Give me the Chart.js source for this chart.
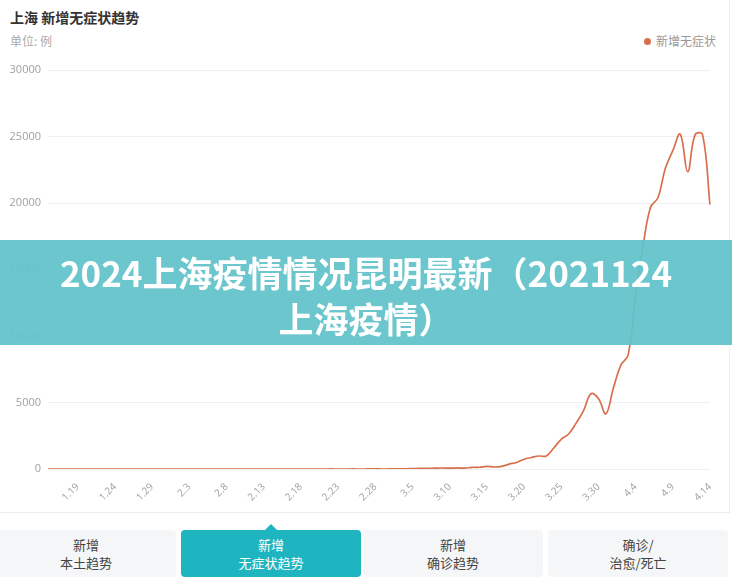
<!DOCTYPE html>
<html>
<head>
<meta charset="utf-8">
<script src="https://cdn.jsdelivr.net/npm/chart.js@4/dist/chart.umd.min.js"></script>
<style>
  html, body { margin: 0; padding: 0; background: #fff; }
  body { width: 732px; height: 587px; position: relative; overflow: hidden;
         font-family: "Noto Sans CJK SC", "Noto Sans", sans-serif; }
  .title { position: absolute; left: 10px; top: 7px; font-size: 14px; font-weight: bold; color: #333; }
  .unit { position: absolute; left: 10px; top: 32px; font-size: 12px; color: #aaa; }
  .legend { position: absolute; left: 644px; top: 32px; font-size: 12px; color: #999; white-space: nowrap; }
  .legend i { display: inline-block; width: 7px; height: 7px; border-radius: 50%; background: #d8704e;
              margin-right: 5px; vertical-align: 1px; }
  #chart { position: absolute; left: 0; top: 30px; }
  .rule-h { position: absolute; left: 0; top: 512px; width: 729px; height: 1px; background: #ececec; }
  .rule-v { position: absolute; left: 729px; top: 0; width: 1px; height: 513px; background: #f0f0f0; }
  .banner { position: absolute; left: 0; top: 240px; width: 732px; height: 105px;
            background: rgba(98, 194, 202, 0.94); color: #fff; text-align: center;
            font-size: 35px; font-weight: bold; line-height: 46px; padding-top: 9px; box-sizing: border-box;
            white-space: nowrap; }
  .tab { position: absolute; top: 530px; height: 47px; width: 180px; border-radius: 4px;
         background: #f5f6f7; color: #444; font-size: 13px; line-height: 18px; text-align: center;
         box-sizing: border-box; padding-top: 6px; }
  .tab.active { background: #1fb5c0; color: #fff; }
  .tab.active:before { content: ""; position: absolute; left: 84px; top: -6px; width: 0; height: 0;
         border-left: 6px solid transparent; border-right: 6px solid transparent; border-bottom: 6px solid #1fb5c0; }
</style>
</head>
<body>
<div class="title">上海 新增无症状趋势</div>
<div class="unit">单位: 例</div>
<div class="legend"><i></i>新增无症状</div>
<canvas id="chart" width="732" height="490"></canvas>
<div class="rule-h"></div>
<div class="rule-v"></div>
<div class="banner">2024上海疫情情况昆明最新（2021124<br>上海疫情）</div>
<div class="tab" style="left:-4px;">新增<br>本土趋势</div>
<div class="tab active" style="left:181px;">新增<br>无症状趋势</div>
<div class="tab" style="left:363px;">新增<br>确诊趋势</div>
<div class="tab" style="left:548px;">确诊/<br>治愈/死亡</div>

<script>
// Daily dates, 1.15 – 4.14
const categories = [
  '1.15','1.16','1.17','1.18','1.19','1.20','1.21','1.22','1.23','1.24','1.25','1.26','1.27','1.28','1.29','1.30','1.31',
  '2.1','2.2','2.3','2.4','2.5','2.6','2.7','2.8','2.9','2.10','2.11','2.12','2.13','2.14','2.15','2.16','2.17','2.18','2.19','2.20','2.21','2.22','2.23','2.24','2.25','2.26','2.27','2.28',
  '3.1','3.2','3.3','3.4','3.5','3.6','3.7','3.8','3.9','3.10','3.11','3.12','3.13','3.14','3.15','3.16','3.17','3.18','3.19','3.20','3.21','3.22','3.23','3.24','3.25','3.26','3.27','3.28','3.29','3.30','3.31',
  '4.1','4.2','4.3','4.4','4.5','4.6','4.7','4.8','4.9','4.10','4.11','4.12','4.13','4.14'
];

// New asymptomatic cases per day
const valuesJan = [0,0,1,0,0,0,0,1,0,0,0,0,1,0,0,0,0];
const valuesFeb = [0,0,0,0,0,1,0,0,0,0,0,1,0,0,0,0,0,0,1,0,0,2,1,0,2,1,2,3];
const valuesMar = [1,3,14,16,28,45,51,62,76,64,78,64,128,130,197,150,203,366,492,734,865,977,979,1582,2231,2631,3450,4381,5656,5298,4144];
const valuesApr = [6051,7788,8581,13086,16766,19660,20398,22609,23937,25173,22348,25141,25146,19872];
const asymptomatic = [...valuesJan, ...valuesFeb, ...valuesMar, ...valuesApr];

// Labels shown on the x axis
const tickLabels = ['1.19','1.24','1.29','2.3','2.8','2.13','2.18','2.23','2.28','3.5','3.10','3.15','3.20','3.25','3.30','4.4','4.9','4.14'];
const yTicks = [0, 5000, 10000, 15000, 20000, 25000, 30000];

new Chart(document.getElementById('chart'), {
  type: 'line',
  data: {
    labels: categories,
    datasets: [{
      label: '新增无症状',
      data: asymptomatic,
      borderColor: '#d8704e',
      backgroundColor: '#d8704e',
      borderWidth: 1.7,
      pointRadius: 0,
      tension: 0.4,
      fill: false
    }]
  },
  options: {
    responsive: false,
    animation: false,
    layout: { padding: { top: 40, right: 22, left: 0, bottom: 0 } },
    plugins: { legend: { display: false }, tooltip: { enabled: false } },
    scales: {
      y: {
        min: 0, max: 30000,
        afterBuildTicks: s => { s.ticks = yTicks.map(v => ({ value: v })); },
        afterFit: s => { s.width = 48; },
        ticks: { color: '#a0a0a0', font: { size: 11, family: 'Open Sans' }, padding: 7,
                 callback: v => String(v) },
        grid: { color: '#efefef', drawTicks: false },
        border: { display: false }
      },
      x: {
        afterFit: s => { s.height = 51; },
        ticks: {
          autoSkip: false, minRotation: 45, maxRotation: 45,
          color: '#a0a0a0', font: { size: 10, family: 'Open Sans' }, padding: 4,
          callback: (v, i) => tickLabels.includes(categories[i]) ? categories[i] : ''
        },
        grid: { display: false },
        border: { display: false }
      }
    }
  }
});
</script>
</body>
</html>
